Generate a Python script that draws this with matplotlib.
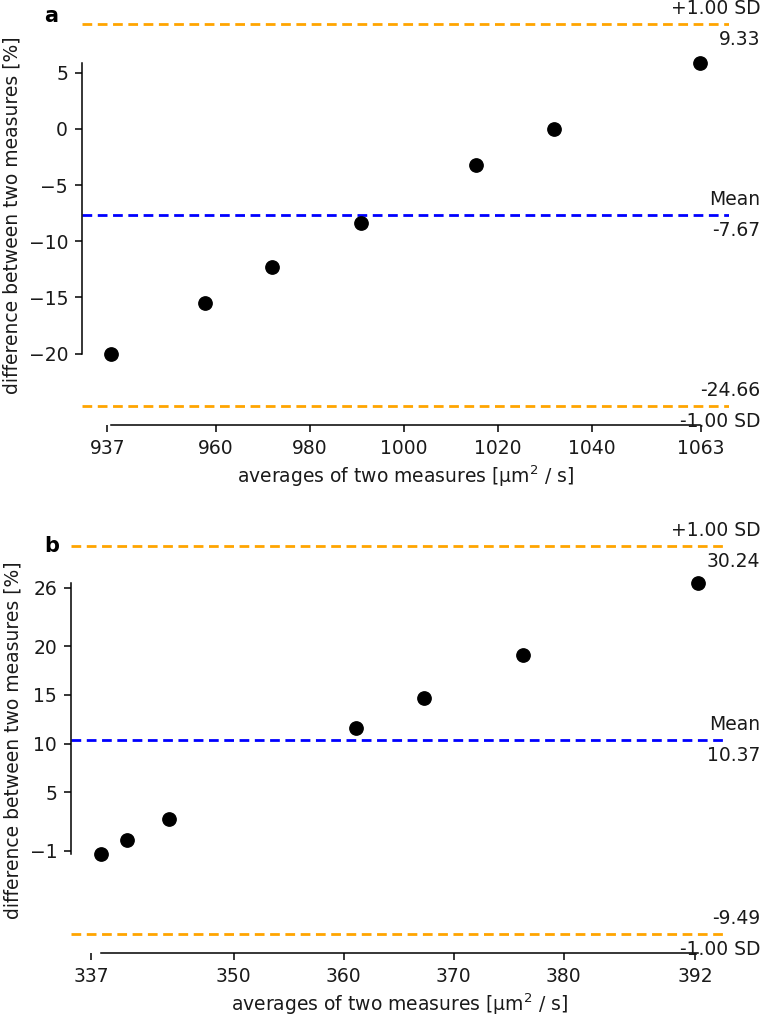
import matplotlib
matplotlib.use("Agg")
import matplotlib.pyplot as plt
from matplotlib.transforms import blended_transform_factory

# panel a
a_avg = [937.85, 957.8, 972.0, 990.8, 1015.4, 1031.8, 1062.8]
a_diff = [-20.05, -15.5, -12.33, -8.37, -3.18, 0.0, 5.87]
a_mean, a_upper, a_lower = -7.67, 9.33, -24.66
a_xticks = [937, 960, 980, 1000, 1020, 1040, 1063]
a_yticks = [-20, -15, -10, -5, 0, 5]

# panel b
b_avg = [337.9, 340.3, 344.1, 361.1, 367.3, 376.3, 392.25]
b_diff = [-1.31, 0.08, 2.26, 11.56, 14.72, 19.05, 26.44]
b_mean, b_upper, b_lower = 10.37, 30.24, -9.49
b_xticks = [337, 350, 360, 370, 380, 392]
b_yticks = [-1, 5, 10, 15, 20, 26]

FS = 13.5
TXT = "#1a1a1a"
dash = (0, (3.5, 2))


def bland_altman(fig, ax, avg, diff, mean, upper, lower, xticks, yticks):
    ax.plot(avg, diff, "o", color="black", markersize=9.6, zorder=3)
    ax.axhline(mean, color="blue", lw=2, ls=dash)
    ax.axhline(upper, color="orange", lw=2, ls=dash)
    ax.axhline(lower, color="orange", lw=2, ls=dash)

    span = upper - lower
    ax.set_ylim(lower - 0.05 * span, upper + 0.05 * span)
    xspan = max(avg) - min(avg)
    ax.set_xlim(min(avg) - 0.05 * xspan, max(avg) + 0.05 * xspan)

    ax.set_xticks(xticks)
    ax.set_yticks(yticks)
    ax.spines["top"].set_visible(False)
    ax.spines["right"].set_visible(False)
    ax.spines["left"].set_bounds(min(diff), max(diff))
    ax.spines["bottom"].set_bounds(min(avg), max(avg))
    for sp in ("left", "bottom"):
        ax.spines[sp].set_linewidth(1.1)
    ax.tick_params(labelsize=FS, length=5, width=1.1, pad=5, colors="black", labelcolor=TXT)

    ax.set_xlabel("averages of two measures [\u03bcm$^2$ / s]", fontsize=FS, color=TXT, labelpad=4)
    ax.set_ylabel("difference between two measures [%]", fontsize=FS, color=TXT, labelpad=5)

    # annotations at the right edge of the figure
    trans = blended_transform_factory(fig.transFigure, ax.transData)
    off = 0.014 * (span * 1.1)
    xr = 0.998
    ax.text(xr, upper + off, "+1.00 SD", ha="right", va="bottom", fontsize=FS, color=TXT, transform=trans)
    ax.text(xr, upper - off, f"{upper:.2f}", ha="right", va="top", fontsize=FS, color=TXT, transform=trans)
    ax.text(xr, mean + off, "Mean", ha="right", va="bottom", fontsize=FS, color=TXT, transform=trans)
    ax.text(xr, mean - off, f"{mean:.2f}", ha="right", va="top", fontsize=FS, color=TXT, transform=trans)
    ax.text(xr, lower + off, f"{lower:.2f}", ha="right", va="bottom", fontsize=FS, color=TXT, transform=trans)
    ax.text(xr, lower - off, "-1.00 SD", ha="right", va="top", fontsize=FS, color=TXT, transform=trans)


fig = plt.figure(figsize=(7.62, 10.18), dpi=100)
ax_a = fig.add_axes([0.1076, 0.5825, 0.8491, 0.4126])
ax_b = fig.add_axes([0.0932, 0.0639, 0.8622, 0.4184])

bland_altman(fig, ax_a, a_avg, a_diff, a_mean, a_upper, a_lower, a_xticks, a_yticks)
bland_altman(fig, ax_b, b_avg, b_diff, b_mean, b_upper, b_lower, b_xticks, b_yticks)

fig.text(0.058, 1 - 22 / 1018, "a", fontsize=15, fontweight="bold", va="baseline")
fig.text(0.058, 1 - 552 / 1018, "b", fontsize=15, fontweight="bold", va="baseline")

fig.savefig("out.png", dpi=100)
